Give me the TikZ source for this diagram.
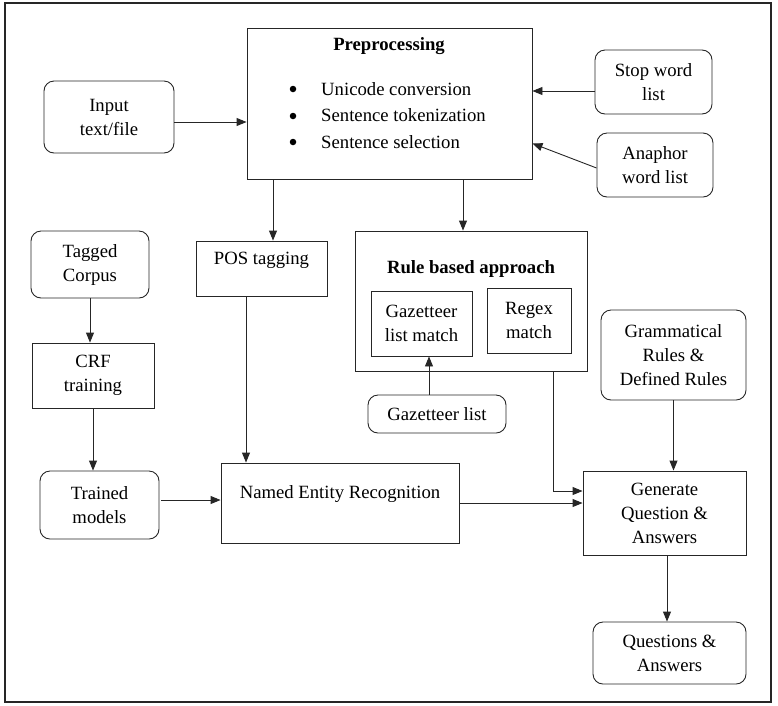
\documentclass[tikz,border=0pt]{standalone}
\usepackage{fontspec}
\IfFontExistsTF{LiberationSerif-Regular.ttf}
  {\setmainfont{LiberationSerif-Regular.ttf}[BoldFont=LiberationSerif-Bold.ttf]}
  {\setmainfont{Liberation Serif}}
\usetikzlibrary{arrows.meta,calc}
\begin{document}
\begin{tikzpicture}[x=1pt,y=-1pt,
  every node/.style={font=\rmfamily\fontsize{18.7}{24}\selectfont},
  box/.style={draw=black!85, line width=0.9pt, inner sep=0pt, align=center},
  rbox/.style={box, rounded corners=10pt},
  lbl/.style={inner sep=0pt, align=center},
  bul/.style={fill=black, circle, inner sep=0pt, minimum size=6.5pt},
  arr/.style={draw=black!85, line width=0.9pt, -{Triangle[length=10pt,width=8pt]}}]
\useasboundingbox (0,0) rectangle (778,705);
\draw[line width=1.6pt, black!85] (5,3) rectangle (771,702);
% nodes
\node[rbox, minimum width=130, minimum height=72] (input) at (109,117) {Input\\text/file};
\node[box, minimum width=285, minimum height=151] (preproc) at (389.5,103.5) {};
\node[lbl, font=\rmfamily\fontsize{18.7}{24}\selectfont\bfseries] (pretitle) at (389,46) {Preprocessing};
\node[bul] (b1) at (293,89) {};
\node[bul] (b2) at (293,116) {};
\node[bul] (b3) at (293,142) {};
\node[lbl, anchor=west, align=left, font=\rmfamily\fontsize{18.7}{26.5}\selectfont] (prelist) at (321,115.5)
  {Unicode conversion\\Sentence tokenization\\Sentence selection};
\node[rbox, minimum width=117, minimum height=64] (stop) at (653.5,82) {Stop word\\list};
\node[rbox, minimum width=116, minimum height=64] (anaphor) at (655,165) {Anaphor\\word list};
\node[box, minimum width=131, minimum height=55] (pos) at (261.5,268.5) {};
\node[lbl] (poslbl) at (261.5,260) {POS tagging};
\node[box, minimum width=232, minimum height=140] (rule) at (471,301) {};
\node[lbl, font=\rmfamily\fontsize{18.7}{24}\selectfont\bfseries] (ruletitle) at (471,269) {Rule based approach};
\node[box, minimum width=101, minimum height=65] (gazmatch) at (421.5,323.5) {Gazetteer\\list match};
\node[box, minimum width=84, minimum height=65] (regex) at (529,320.5) {Regex\\match};
\node[rbox, minimum width=138, minimum height=38] (gazlist) at (437,414) {Gazetteer list};
\node[rbox, minimum width=118, minimum height=67] (tagged) at (90,264.5) {Tagged\\Corpus};
\node[box, minimum width=122, minimum height=65] (crf) at (93,375.5) {CRF\\training};
\node[rbox, minimum width=119, minimum height=68] (trained) at (99.5,505) {Trained\\models};
\node[box, minimum width=238, minimum height=80] (ner) at (340,503) {};
\node[lbl] (nerlbl) at (340,494) {Named Entity Recognition};
\node[rbox, minimum width=145, minimum height=90] (gram) at (673.5,355) {Grammatical\\Rules \&\\Defined Rules};
\node[box, minimum width=163, minimum height=84] (gen) at (664.5,513) {Generate\\Question \&\\Answers};
\node[rbox, minimum width=153, minimum height=62] (qa) at (669.5,653) {Questions \&\\Answers};
% connectors
\coordinate (c1) at ([yshift=-5pt]input.east);
\draw[arr] (c1) -- (c1 -| preproc.west);
\coordinate (c2) at ([yshift=-9pt]stop.west);
\draw[arr] (c2) -- (c2 -| preproc.east);
\coordinate (c3) at ([yshift=36pt]preproc.south east);
\draw[arr] ([yshift=-3pt]anaphor.west) -- (c3);
\coordinate (c4) at ([xshift=11.5pt]pos.north);
\draw[arr] (c4 |- preproc.south) -- (c4);
\coordinate (c5) at ([xshift=-8pt]rule.north);
\draw[arr] (c5 |- preproc.south) -- (c5);
\coordinate (c6) at ([xshift=-8pt]gazlist.north);
\draw[arr] (c6) -- (c6 |- gazmatch.south);
\draw[arr] (tagged.south) -- (tagged.south |- crf.north);
\draw[arr] (crf.south) -- (crf.south |- trained.north);
\coordinate (c7) at ([xshift=2pt,yshift=5pt]trained.east);
\draw[arr] (c7) -- (c7 -| ner.west);
\coordinate (c8) at ([xshift=-15.5pt]pos.south);
\draw[arr] (c8) -- (c8 |- ner.north);
\draw[arr] (ner.east) -- (ner.east -| gen.west);
\coordinate (c9) at ([xshift=-34pt]rule.south east);
\coordinate (c10) at ([yshift=22pt]gen.west);
\draw[arr] (c9) |- (c10);
\draw[arr] (gram.south) -- (gram.south |- gen.north);
\coordinate (c11) at ([xshift=2.5pt]gen.south);
\draw[arr] (c11) -- (c11 |- qa.north);
\end{tikzpicture}
\end{document}
